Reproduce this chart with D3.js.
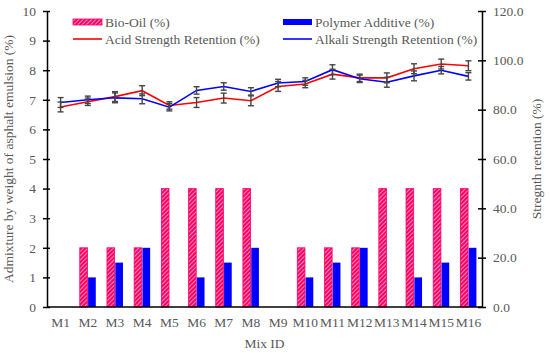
<!DOCTYPE html>
<html>
<head>
<meta charset="utf-8">
<script src="https://cdn.jsdelivr.net/npm/d3@7"></script>
<style>
  body { margin: 0; background: #fff; }
  svg text { font-family: "Liberation Serif", "Times New Roman", Times, "DejaVu Serif", serif !important; }
</style>
</head>
<body>
<div id="chart"></div>
<script>
var width = 550
var height = 353

var MIXES = ["M1","M2","M3","M4","M5","M6","M7","M8","M9","M10","M11","M12","M13","M14","M15","M16"]
var BIO_OIL = [0, 2, 2, 2, 4, 4, 4, 4, 0, 2, 2, 2, 4, 4, 4, 4]
var POLYMER = [0, 1, 1.5, 2, 0, 1, 1.5, 2, 0, 1, 1.5, 2, 0, 1, 1.5, 2]
var ACID = [81.1, 83.2, 85.3, 87.7, 81.7, 82.9, 84.7, 83.6, 89.4, 90.4, 94.4, 92.9, 92.9, 96.6, 98.5, 97.8]
var ALKALI = [82.9, 84.0, 84.8, 84.4, 81.0, 87.8, 89.4, 87.4, 90.8, 91.4, 96.2, 92.5, 91.1, 93.7, 96.0, 93.5]
var ACID_ERR = [2, 1.5, 2, 2, 1.5, 2, 2, 2, 2, 1.5, 2, 1.5, 2, 2, 2, 2]
var ALKALI_ERR = [2, 1.5, 2, 2, 1.5, 1.5, 1.5, 1.5, 1.5, 1.5, 2, 1.5, 2, 2, 1.5, 1.5]
var LEFT_TICKS = [0,1,2,3,4,5,6,7,8,9,10]
var RIGHT_TICKS = [0,20,40,60,80,100,120]

var FONT = "'Liberation Serif', 'Times New Roman', Times, 'DejaVu Serif', serif"
var margin = {left: 47, right: 68, top: 11, bottom: 46}
var x0 = margin.left, x1 = width - margin.right
var yTop = margin.top, yBot = height - margin.bottom

var svg = d3.select("#chart")
    .append("svg")
    .attr("width", width)
    .attr("height", height)
    .attr("font-family", FONT)

// hatch for bio-oil
var defs = svg.append("defs")
var pat = defs.append("pattern")
    .attr("id", "hatch")
    .attr("patternUnits", "userSpaceOnUse")
    .attr("width", 3)
    .attr("height", 3)
    .attr("patternTransform", "rotate(45)")
pat.append("rect").attr("width", 3).attr("height", 3).attr("fill", "#ff0066")
pat.append("line").attr("x1", 0).attr("y1", 0).attr("x2", 0).attr("y2", 3)
    .attr("stroke", "#ffffff").attr("stroke-width", 1.1)

var x = d3.scaleBand().domain(MIXES).range([x0, x1])
var xs = d3.scaleBand().domain(["bio", "poly"]).range([0, 16]).paddingInner(0.08)
var yL = d3.scaleLinear().domain([0, 10]).range([yBot, yTop])
var yR = d3.scaleLinear().domain([0, 120]).range([yBot, yTop])

var barOff = x.bandwidth() / 2 - 8

// bars
svg.selectAll(".bio")
    .data(MIXES)
    .enter()
    .append("rect")
    .filter((d, i) => BIO_OIL[i] > 0)
    .attr("x", d => x(d) + barOff + xs("bio"))
    .attr("y", d => yL(BIO_OIL[MIXES.indexOf(d)]))
    .attr("width", xs.bandwidth())
    .attr("height", d => yBot - yL(BIO_OIL[MIXES.indexOf(d)]))
    .attr("fill", "url(#hatch)")
    .attr("stroke", "#ff0066")
    .attr("stroke-width", 0.8)

svg.selectAll(".poly")
    .data(MIXES)
    .enter()
    .append("rect")
    .filter((d, i) => POLYMER[i] > 0)
    .attr("x", d => x(d) + barOff + xs("poly"))
    .attr("y", d => yL(POLYMER[MIXES.indexOf(d)]))
    .attr("width", xs.bandwidth())
    .attr("height", d => yBot - yL(POLYMER[MIXES.indexOf(d)]))
    .attr("fill", "#0000ff")

// lines
var cx = d => x(d) + x.bandwidth() / 2

function drawLine(vals, color){
    var line = d3.line()
        .x((d, i) => cx(MIXES[i]))
        .y(d => yR(d))
    svg.append("path")
        .datum(vals)
        .attr("d", line)
        .attr("fill", "none")
        .attr("stroke", color)
        .attr("stroke-width", 1.6)
}

function drawErr(vals, errs){
    var g = svg.append("g").attr("stroke", "#454545").attr("stroke-width", 1.4)
    vals.forEach(function(v, i){
        var px = cx(MIXES[i])
        g.append("line").attr("x1", px).attr("x2", px)
            .attr("y1", yR(v - errs[i])).attr("y2", yR(v + errs[i]))
        g.append("line").attr("x1", px - 3).attr("x2", px + 3)
            .attr("y1", yR(v - errs[i])).attr("y2", yR(v - errs[i]))
        g.append("line").attr("x1", px - 3).attr("x2", px + 3)
            .attr("y1", yR(v + errs[i])).attr("y2", yR(v + errs[i]))
    })
}

drawLine(ACID, "#ff0000")
drawLine(ALKALI, "#0000ff")
drawErr(ACID, ACID_ERR)
drawErr(ALKALI, ALKALI_ERR)

// axes
var leftAxis = svg.append("g")
    .attr("transform", "translate(" + x0 + ",0)")
    .call(d3.axisLeft(yL).tickValues(LEFT_TICKS).tickFormat(d3.format("d")).tickSizeInner(4).tickSizeOuter(0).tickPadding(7))
leftAxis.selectAll(".tick line").attr("x2", 3).attr("x1", -4)

var rightAxis = svg.append("g")
    .attr("transform", "translate(" + x1 + ",0)")
    .call(d3.axisRight(yR).tickValues(RIGHT_TICKS).tickFormat(d3.format(".1f")).tickSizeInner(4).tickSizeOuter(0).tickPadding(7))
rightAxis.selectAll(".tick line").attr("x1", -4).attr("x2", 4)

var bottomAxis = svg.append("g")
    .attr("transform", "translate(0," + yBot + ")")
    .call(d3.axisBottom(x).tickSize(0).tickPadding(10))
bottomAxis.select(".domain").attr("d", "M" + x0 + ",0H" + x1)

svg.selectAll("g").filter(function(){ return this.hasAttribute("font-family") }).attr("font-family", FONT).attr("font-size", 13.5)
svg.selectAll(".domain").attr("stroke", "#000").attr("stroke-width", 1.5)
svg.selectAll(".tick line").attr("stroke", "#000").attr("stroke-width", 1.5)
svg.selectAll(".tick text")
    .attr("fill", "#595959")

// titles
svg.append("text")
    .attr("transform", "translate(13," + ((yTop + yBot) / 2) + ") rotate(-90)")
    .attr("text-anchor", "middle")
    .attr("fill", "#595959")
    .attr("font-size", 13.5)
    .text("Admixture by weight of asphalt emulsion (%)")

svg.append("text")
    .attr("transform", "translate(541," + ((yTop + yBot) / 2) + ") rotate(-90)")
    .attr("text-anchor", "middle")
    .attr("fill", "#595959")
    .attr("font-size", 13.5)
    .text("Stregnth retention (%)")

svg.append("text")
    .attr("x", (x0 + x1) / 2)
    .attr("y", 348)
    .attr("text-anchor", "middle")
    .attr("fill", "#595959")
    .attr("font-size", 13.5)
    .text("Mix ID")

// legend
var LEGEND = [
    {label: "Bio-Oil (%)", type: "bar", fill: "url(#hatch)", col: 0, row: 0},
    {label: "Polymer Additive (%)", type: "bar", fill: "#0000ff", col: 1, row: 0},
    {label: "Acid Strength Retention (%)", type: "line", fill: "#ff0000", col: 0, row: 1},
    {label: "Alkali Strength Retention (%)", type: "line", fill: "#0000ff", col: 1, row: 1}
]
var colX = [73, 283]
var rowY = [22, 39]

var lg = svg.append("g")
LEGEND.forEach(function(d){
    var lx = colX[d.col], ly = rowY[d.row]
    if (d.type == "bar") {
        lg.append("rect").attr("x", lx).attr("y", ly - 3).attr("width", 29).attr("height", 6)
            .attr("fill", d.fill)
            .attr("stroke", d.fill == "#0000ff" ? "none" : "#ff0066").attr("stroke-width", 0.8)
    } else {
        lg.append("line").attr("x1", lx).attr("x2", lx + 29).attr("y1", ly).attr("y2", ly)
            .attr("stroke", d.fill).attr("stroke-width", 1.6)
    }
    lg.append("text").attr("x", lx + 32).attr("y", ly + 4.5)
        .attr("fill", "#595959")
        .attr("font-size", 13.5)
        .text(d.label)
})
</script>
</body>
</html>
